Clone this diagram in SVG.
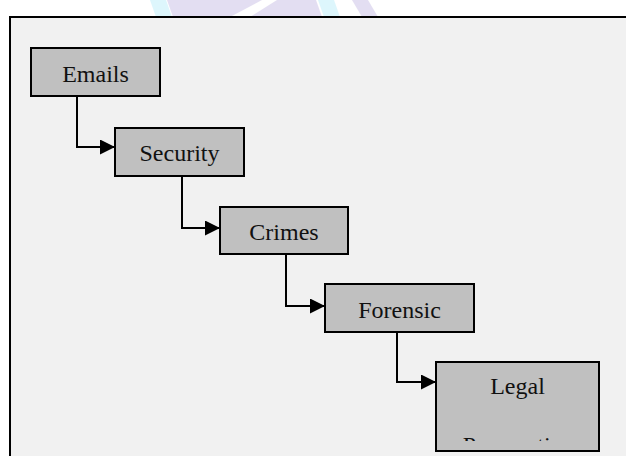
<svg xmlns="http://www.w3.org/2000/svg" width="626" height="456" viewBox="0 0 626 456">
  <style>
    .box { fill: #c0c0c0; stroke: #000; stroke-width: 2; }
    .lbl { font-family: "Liberation Serif", "Times New Roman", serif; font-size: 24px; fill: #111; text-anchor: middle; }
    .conn { fill: none; stroke: #000; stroke-width: 2; }
  </style>
  <defs>
    <marker id="arrow" viewBox="0 0 10 10" refX="10" refY="5" markerWidth="15" markerHeight="15" markerUnits="userSpaceOnUse" orient="auto">
      <path d="M0,0 L10,5 L0,10 Z" fill="#000"/>
    </marker>
    <clipPath id="legalClip">
      <rect x="436" y="362" width="164" height="79"/>
    </clipPath>
  </defs>
  <rect x="0" y="0" width="626" height="456" fill="#ffffff"/>
  <g id="watermark" opacity="0.5">
    <polygon points="150,0 166,0 172,17 156,17" fill="#bdeefa"/>
    <polygon points="167,0 262,0 230,17 173,17" fill="#c9bfe6"/>
    <polygon points="277,0 316,0 322,17 250,17" fill="#c9bfe6"/>
    <polygon points="318,0 334,0 340,17 324,17" fill="#bdeefa"/>
    <polygon points="352,0 368,0 378,17 362,17" fill="#c9bfe6"/>
  </g>
  <rect id="frame" x="10" y="17" width="640" height="460" fill="#f1f1f1" stroke="#000" stroke-width="2"/>
  <g id="connectors">
    <path class="conn" d="M77,96 V147 H115" marker-end="url(#arrow)"/>
    <path class="conn" d="M182,176 V228 H220" marker-end="url(#arrow)"/>
    <path class="conn" d="M286,254 V306 H325" marker-end="url(#arrow)"/>
    <path class="conn" d="M397,332 V382 H436" marker-end="url(#arrow)"/>
  </g>
  <g id="emails">
    <rect class="box" x="31" y="48" width="129" height="48"/>
    <text class="lbl" x="95.5" y="82">Emails</text>
  </g>
  <g id="security">
    <rect class="box" x="115" y="128" width="129" height="48"/>
    <text class="lbl" x="179.5" y="161">Security</text>
  </g>
  <g id="crimes">
    <rect class="box" x="220" y="207" width="128" height="47"/>
    <text class="lbl" x="284" y="240">Crimes</text>
  </g>
  <g id="forensic">
    <rect class="box" x="325" y="284" width="149" height="48"/>
    <text class="lbl" x="399.5" y="318">Forensic</text>
  </g>
  <g id="legal">
    <rect class="box" x="436" y="362" width="163" height="89"/>
    <text class="lbl" x="517.5" y="394">Legal</text>
    <text class="lbl" x="518" y="453" clip-path="url(#legalClip)">Perspective</text>
  </g>
</svg>
